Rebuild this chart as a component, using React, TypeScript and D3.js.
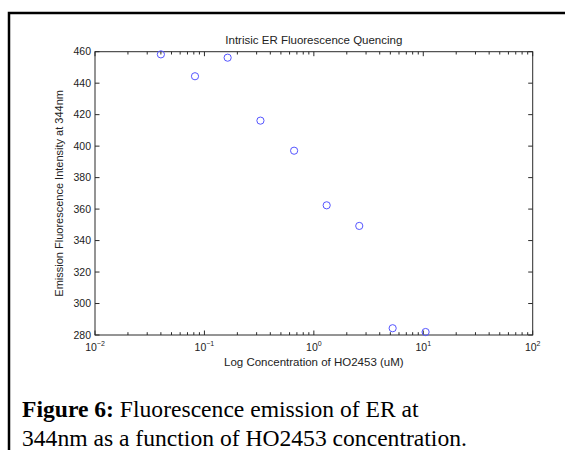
import React from 'react';
import * as d3 from 'd3';

const concentrations = [0.04, 0.082, 0.163, 0.325, 0.66, 1.31, 2.6, 5.25, 10.5];
const intensities = [458.3, 444.4, 456.2, 416.2, 397.1, 362.4, 349.3, 284.3, 281.9];
const yTicks = [280, 300, 320, 340, 360, 380, 400, 420, 440, 460];
const xDecades = [-2, -1, 0, 1, 2];
const chartTitle = 'Intrisic ER Fluorescence Quencing';
const xLabel = 'Log Concentration of HO2453 (uM)';
const yLabel = 'Emission Fluorescence Intensity at 344nm';
const captionBold = 'Figure 6:';
const captionLine1 = ' Fluorescence emission of ER at';
const captionLine2 = '344nm as a function of HO2453 concentration.';

export default function App() {
  const W = 565, H = 450;
  const left = 95, right = 532.7, top = 51.7, bottom = 335;
  const x = d3.scaleLog().domain([0.01, 100]).range([left, right]);
  const y = d3.scaleLinear().domain([280, 460]).range([bottom, top]);
  const axisColor = '#2a2a2a';
  const font = 'Liberation Sans, Arial, sans-serif';

  const minorTicks: number[] = [];
  for (let d = -2; d < 2; d++) {
    for (let k = 2; k <= 9; k++) minorTicks.push(k * Math.pow(10, d));
  }
  const majorLen = 4.5, minorLen = 2.8;

  return (
    <svg width={W} height={H} style={{ position: 'absolute', left: 0, top: 0, background: '#fff' }}>
      {/* outer frame */}
      <path d={`M9,${H + 5} L9,13 L${W + 5},13`} fill="none" stroke="#000" strokeWidth={2.5} />

      {/* plot box */}
      <rect x={left} y={top} width={right - left} height={bottom - top} fill="none" stroke={axisColor} strokeWidth={1} />

      {/* y ticks */}
      {yTicks.map((t) => (
        <g key={'y' + t}>
          <line x1={left} x2={left + majorLen} y1={y(t)} y2={y(t)} stroke={axisColor} />
          <line x1={right} x2={right - majorLen} y1={y(t)} y2={y(t)} stroke={axisColor} />
          <text x={left - 4} y={y(t)} dy="0.35em" textAnchor="end" fontSize={10.5} fontFamily={font} fill="#222">{t}</text>
        </g>
      ))}

      {/* x major ticks */}
      {xDecades.map((d) => {
        const v = Math.pow(10, d);
        return (
          <g key={'x' + d}>
            <line x1={x(v)} x2={x(v)} y1={bottom} y2={bottom - majorLen} stroke={axisColor} />
            <line x1={x(v)} x2={x(v)} y1={top} y2={top + majorLen} stroke={axisColor} />
            <text x={x(v)} y={351} textAnchor="middle" fontSize={10.5} fontFamily={font} fill="#222">
              <tspan>10</tspan>
              <tspan dy={-5} fontSize={7}>{d < 0 ? '\u2212' + Math.abs(d) : String(d)}</tspan>
            </text>
          </g>
        );
      })}

      {/* x minor ticks */}
      {minorTicks.map((v, i) => (
        <g key={'m' + i}>
          <line x1={x(v)} x2={x(v)} y1={bottom} y2={bottom - minorLen} stroke={axisColor} />
          <line x1={x(v)} x2={x(v)} y1={top} y2={top + minorLen} stroke={axisColor} />
        </g>
      ))}

      {/* data */}
      {concentrations.map((c, i) => (
        <circle key={'p' + i} cx={x(c)} cy={y(intensities[i])} r={3.6} fill="none" stroke="#5555ff" strokeWidth={1} />
      ))}

      {/* labels */}
      <text x={(left + right) / 2} y={44} textAnchor="middle" fontSize={11.5} fontFamily={font} fill="#222">{chartTitle}</text>
      <text x={(left + right) / 2} y={366} textAnchor="middle" fontSize={11.5} fontFamily={font} fill="#222">{xLabel}</text>
      <text transform={`translate(63,${(top + bottom) / 2}) rotate(-90)`} textAnchor="middle" fontSize={11} fontFamily={font} fill="#222">{yLabel}</text>

      {/* caption */}
      <text x={22} y={417} fontSize={23.6} fontFamily="Liberation Serif, Times New Roman, serif" fill="#000">
        <tspan fontWeight="bold">{captionBold}</tspan>
        <tspan>{captionLine1}</tspan>
      </text>
      <text x={22} y={446} fontSize={23.6} fontFamily="Liberation Serif, Times New Roman, serif" fill="#000">{captionLine2}</text>
    </svg>
  );
}
